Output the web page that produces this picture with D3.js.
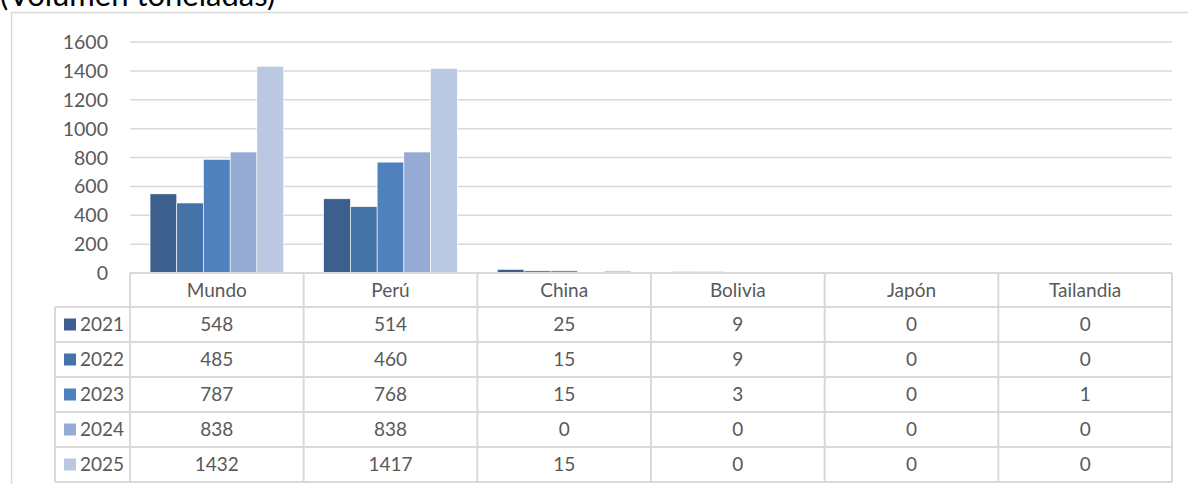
<!DOCTYPE html>
<html>
<head>
<meta charset="utf-8">
<script src="https://cdn.jsdelivr.net/npm/d3@7"></script>
<style>
  html, body { margin: 0; padding: 0; background: #fff; }
  svg { display: block; font-family: Lato, 'Open Sans', sans-serif; }
</style>
</head>
<body>
<div id="chart"></div>
<script>
// datos
const paises = ['Mundo', 'Perú', 'China', 'Bolivia', 'Japón', 'Tailandia']
const anios = ['2021', '2022', '2023', '2024', '2025']
const v2021 = [548, 514, 25, 9, 0, 0]
const v2022 = [485, 460, 15, 9, 0, 0]
const v2023 = [787, 768, 15, 3, 0, 1]
const v2024 = [838, 838, 0, 0, 0, 0]
const v2025 = [1432, 1417, 15, 0, 0, 0]
const yTicks = [0, 200, 400, 600, 800, 1000, 1200, 1400, 1600]

const series = [v2021, v2022, v2023, v2024, v2025]
const colores = ['#3c5f8e', '#4572a7', '#4f81bd', '#95abd3', '#bac8e2']

const width = 1188
const height = 484
const plot = { left: 130, right: 1172, top: 42, bottom: 273 }
const rowH = 35
const headerH = 34
const legendLeft = 55
const lineColor = '#d9d9d9'
const textColor = '#595959'

const svg = d3.select('#chart').append('svg')
  .attr('width', width)
  .attr('height', height)

// título (cortado arriba, como en el original)
svg.append('text')
  .attr('x', 0)
  .attr('y', 6)
  .attr('font-size', 31)
  .attr('fill', '#000')
  .text('(Volumen toneladas)')

// marco del gráfico
svg.append('path')
  .attr('d', `M11.5,${height} V12.5 H${width + 2}`)
  .attr('fill', 'none')
  .attr('stroke', lineColor)
  .attr('stroke-width', 1.5)

const x0 = d3.scaleBand().domain(paises).range([plot.left, plot.right]).padding(0)
const x1 = d3.scaleBand().domain(anios).range([0, x0.bandwidth()])
  .paddingInner(0).paddingOuter(0.75)
const y = d3.scaleLinear().domain([0, 1600]).range([plot.bottom, plot.top])

// líneas de cuadrícula
svg.append('g').selectAll('line').data(yTicks.slice(1)).join('line')
  .attr('x1', plot.left).attr('x2', plot.right)
  .attr('y1', d => y(d)).attr('y2', d => y(d))
  .attr('stroke', lineColor).attr('stroke-width', 1.5)

// etiquetas del eje Y
svg.append('g').selectAll('text').data(yTicks).join('text')
  .attr('x', 108)
  .attr('y', d => y(d))
  .attr('dy', '0.36em')
  .attr('text-anchor', 'end')
  .attr('font-size', 19.5)
  .attr('fill', textColor)
  .text(d => d)

// barras
const grupos = svg.append('g').selectAll('g').data(paises).join('g')
  .attr('transform', d => `translate(${x0(d)},0)`)
grupos.selectAll('rect')
  .data((p, i) => anios.map((a, j) => ({ anio: a, valor: series[j][i], color: colores[j] })))
  .join('rect')
  .attr('x', d => x1(d.anio))
  .attr('width', x1.bandwidth())
  .attr('y', d => y(d.valor))
  .attr('height', d => y(0) - y(d.valor))
  .attr('fill', d => d.color)
  .attr('stroke', '#fff')
  .attr('stroke-width', 0.6)

// tabla de datos
const tabla = svg.append('g')
const tableTop = plot.bottom
const rowsTop = tableTop + headerH
const tableBottom = rowsTop + rowH * anios.length

// cabecera
paises.forEach(p => {
  tabla.append('text')
    .attr('x', x0(p) + x0.bandwidth() / 2)
    .attr('y', tableTop + headerH / 2)
    .attr('dy', '0.36em')
    .attr('text-anchor', 'middle')
    .attr('font-size', 19)
    .attr('fill', textColor)
    .text(p)
})

// filas
anios.forEach((a, j) => {
  const ry = rowsTop + rowH * j
  tabla.append('rect')
    .attr('x', 64).attr('y', ry + rowH / 2 - 6)
    .attr('width', 12).attr('height', 12)
    .attr('fill', colores[j])
  tabla.append('text')
    .attr('x', 80)
    .attr('y', ry + rowH / 2)
    .attr('dy', '0.36em')
    .attr('font-size', 19)
    .attr('fill', textColor)
    .text(a)
  paises.forEach((p, i) => {
    tabla.append('text')
      .attr('x', x0(p) + x0.bandwidth() / 2)
      .attr('y', ry + rowH / 2)
      .attr('dy', '0.36em')
      .attr('text-anchor', 'middle')
      .attr('font-size', 19)
      .attr('fill', textColor)
      .text(series[j][i])
  })
})

// líneas de la tabla
const hLines = [{ y: tableTop, x1: plot.left }]
  .concat(d3.range(anios.length + 1).map(k => ({ y: rowsTop + rowH * k, x1: legendLeft })))
tabla.selectAll('line.h').data(hLines).join('line')
  .attr('class', 'h')
  .attr('x1', d => d.x1).attr('x2', plot.right)
  .attr('y1', d => d.y).attr('y2', d => d.y)
  .attr('stroke', lineColor).attr('stroke-width', 2)

const vLines = paises.map(p => x0(p)).concat([plot.right])
tabla.selectAll('line.v').data(vLines).join('line')
  .attr('class', 'v')
  .attr('x1', d => d).attr('x2', d => d)
  .attr('y1', tableTop).attr('y2', tableBottom)
  .attr('stroke', lineColor).attr('stroke-width', 2)
tabla.append('line')
  .attr('x1', legendLeft).attr('x2', legendLeft)
  .attr('y1', rowsTop).attr('y2', tableBottom)
  .attr('stroke', lineColor).attr('stroke-width', 2)
</script>
</body>
</html>
